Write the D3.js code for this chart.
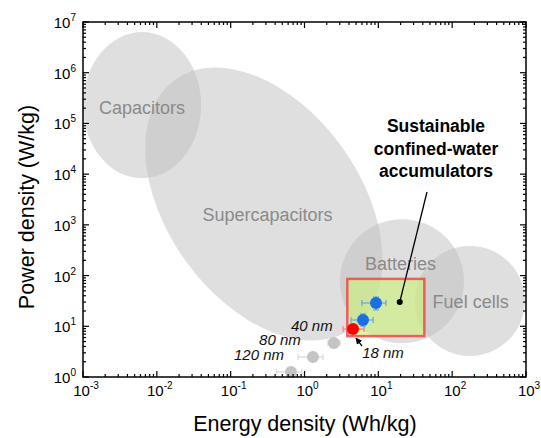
<!DOCTYPE html>
<html>
<head>
<meta charset="utf-8">
<script src="https://cdn.jsdelivr.net/npm/d3@7"></script>
<style>
  body { margin: 0; background: #fff; }
  text { font-family: Arial, "Liberation Sans", sans-serif; }
</style>
</head>
<body>
<div id="chart"></div>
<script>
// technology regions: centre (log10 E, log10 P), semi axes in x-decades, rotation (deg)
const regionNames = ["Capacitors", "Supercapacitors", "Batteries", "Fuel cells"];
const regionCx = [-2.20, -0.55, 1.32, 2.24];
const regionCy = [5.36, 3.41, 1.89, 1.50];
const regionRx = [0.80, 2.07, 0.84, 0.745];
const regionRy = [0.99, 1.31, 0.84, 0.745];
const regionRot = [0, 54.5, 0, 0];
const regionLabelX = [-2.20, -0.50, 1.30, 2.25];
const regionLabelY = [5.27, 3.17, 2.21, 1.45];

// confined-water accumulator box
const boxE = [3.8, 42];
const boxP = [6.4, 86];

// measured points (gray = thicker channels, blue = ours, red = 18 nm)
const ptLabel = ["120 nm", "80 nm", "40 nm", "18 nm", "", ""];
const ptE = [0.656, 1.30, 2.5, 4.54, 6.2, 9.3];
const ptP = [1.26, 2.48, 4.7, 8.8, 13.3, 28.8];
const ptElo = [0.42, 0.82, 2.08, 3.33, 4.27, 6.0];
const ptEhi = [0.92, 1.78, 3.03, 6.4, 8.5, 12.7];
const ptPlo = [1.2, 2.3, 4.3, 8.2, 10.1, 21];
const ptPhi = [1.33, 2.7, 5.1, 9.5, 17.5, 37.8];
const ptKind = ["gray", "gray", "gray", "red", "blue", "blue"];

const xTicks = [1e-3, 1e-2, 1e-1, 1e0, 1e1, 1e2, 1e3];
const yTicks = [1e0, 1e1, 1e2, 1e3, 1e4, 1e5, 1e6, 1e7];

const W = 541, H = 438;
const margin = {top: 22, right: 15, bottom: 61, left: 83};
const cw = W - margin.left - margin.right;
const ch = H - margin.top - margin.bottom;

const svg = d3.select("#chart").append("svg").attr("width", W).attr("height", H);
const defs = svg.append("defs");
defs.append("clipPath").attr("id", "clip").append("rect").attr("width", cw).attr("height", ch);
defs.append("marker").attr("id", "arr").attr("viewBox", "0 0 10 10")
  .attr("refX", 9).attr("refY", 5).attr("markerWidth", 5).attr("markerHeight", 5)
  .attr("orient", "auto")
  .append("path").attr("d", "M0,0 L10,5 L0,10 z").attr("fill", "#000");

const g = svg.append("g").attr("transform", `translate(${margin.left},${margin.top})`);

const x = d3.scaleLog().domain([1e-3, 1e3]).range([0, cw]);
const y = d3.scaleLog().domain([1e0, 1e7]).range([ch, 0]);
const dec = cw / 6; // px per x-decade

// regions
const plot = g.append("g").attr("clip-path", "url(#clip)");
regionNames.forEach((name, i) => {
  const cx = x(Math.pow(10, regionCx[i])), cy = y(Math.pow(10, regionCy[i]));
  plot.append("ellipse")
    .attr("transform", `translate(${cx},${cy}) rotate(${regionRot[i]})`)
    .attr("rx", regionRx[i] * dec).attr("ry", regionRy[i] * dec)
    .attr("fill", "#c0c0c0").attr("fill-opacity", 0.5);
});

// green box
plot.append("rect")
  .attr("x", x(boxE[0])).attr("y", y(boxP[1]))
  .attr("width", x(boxE[1]) - x(boxE[0])).attr("height", y(boxP[0]) - y(boxP[1]))
  .attr("fill", "#cdf07e").attr("fill-opacity", 0.65)
  .attr("stroke", "#f04848").attr("stroke-opacity", 0.85).attr("stroke-width", 2.5);

regionNames.forEach((name, i) => {
  g.append("text")
    .attr("x", x(Math.pow(10, regionLabelX[i])))
    .attr("y", y(Math.pow(10, regionLabelY[i])))
    .attr("text-anchor", "middle").attr("dominant-baseline", "middle")
    .attr("font-size", 18).attr("fill", "#8a8a8a")
    .text(name);
});

// error bars and points
const colors = {
  gray: {dot: "#c4c4c4", bar: "#d8d8d8"},
  red: {dot: "#ff0000", bar: "#f08080"},
  blue: {dot: "#1a6fe6", bar: "#6aa4e0"}
};
const cap = 3;
ptE.forEach((e, i) => {
  const c = colors[ptKind[i]];
  const px = x(e), py = y(ptP[i]);
  const eg = g.append("g").attr("stroke", c.bar).attr("stroke-width", 1.2);
  eg.append("line").attr("x1", x(ptElo[i])).attr("x2", x(ptEhi[i])).attr("y1", py).attr("y2", py);
  eg.append("line").attr("x1", x(ptElo[i])).attr("x2", x(ptElo[i])).attr("y1", py - cap).attr("y2", py + cap);
  eg.append("line").attr("x1", x(ptEhi[i])).attr("x2", x(ptEhi[i])).attr("y1", py - cap).attr("y2", py + cap);
  eg.append("line").attr("x1", px).attr("x2", px).attr("y1", y(ptPlo[i])).attr("y2", y(ptPhi[i]));
  eg.append("line").attr("x1", px - cap).attr("x2", px + cap).attr("y1", y(ptPlo[i])).attr("y2", y(ptPlo[i]));
  eg.append("line").attr("x1", px - cap).attr("x2", px + cap).attr("y1", y(ptPhi[i])).attr("y2", y(ptPhi[i]));
  g.append("circle").attr("cx", px).attr("cy", py).attr("r", 6).attr("fill", c.dot);
});

// size labels
const lblDx = [-32, -33, -22, 0, 0, 0];
const lblDy = [-12, -12, -12, 0, 0, 0];
ptLabel.forEach((t, i) => {
  if (!t || i === 3) return;
  g.append("text")
    .attr("x", x(ptE[i]) + lblDx[i]).attr("y", y(ptP[i]) + lblDy[i])
    .attr("text-anchor", "middle").attr("font-size", 15).attr("font-style", "italic")
    .attr("fill", "#111").text(t);
});
// 18 nm with arrow
const rx18 = x(ptE[3]), ry18 = y(ptP[3]);
g.append("line").attr("x1", rx18 + 9).attr("y1", ry18 + 17).attr("x2", rx18 + 3).attr("y2", ry18 + 9)
  .attr("stroke", "#000").attr("stroke-width", 1.3).attr("marker-end", "url(#arr)");
g.append("text").attr("x", rx18 + 30).attr("y", ry18 + 29)
  .attr("text-anchor", "middle").attr("font-size", 15).attr("font-style", "italic")
  .attr("fill", "#111").text(ptLabel[3]);

// annotation
const dotE = 19.5, dotP = 30;
const ann = ["Sustainable", "confined-water", "accumulators"];
const annX = 436 - margin.left;
ann.forEach((t, i) => {
  g.append("text").attr("x", annX).attr("y", 132 - margin.top + i * 22.5)
    .attr("text-anchor", "middle").attr("font-size", 17.5).attr("font-weight", "bold")
    .attr("fill", "#000").text(t);
});
g.append("line").attr("x1", 427 - margin.left).attr("y1", 192 - margin.top)
  .attr("x2", x(dotE)).attr("y2", y(dotP)).attr("stroke", "#000").attr("stroke-width", 1.3);
g.append("circle").attr("cx", x(dotE)).attr("cy", y(dotP)).attr("r", 3).attr("fill", "#000");

// frame
g.append("rect").attr("width", cw).attr("height", ch)
  .attr("fill", "none").attr("stroke", "#000").attr("stroke-width", 1.5);

// ticks on all sides, pointing inward
function minors(scale) {
  const [a, b] = scale.domain();
  const out = [];
  for (let p = Math.log10(a); p < Math.log10(b); p++)
    for (let k = 2; k <= 9; k++) out.push(k * Math.pow(10, p));
  return out;
}
const tg = g.append("g").attr("stroke", "#000").attr("stroke-width", 1.2);
xTicks.forEach(v => {
  tg.append("line").attr("x1", x(v)).attr("x2", x(v)).attr("y1", ch).attr("y2", ch - 6);
  tg.append("line").attr("x1", x(v)).attr("x2", x(v)).attr("y1", 0).attr("y2", 6);
});
minors(x).forEach(v => {
  tg.append("line").attr("x1", x(v)).attr("x2", x(v)).attr("y1", ch).attr("y2", ch - 3);
  tg.append("line").attr("x1", x(v)).attr("x2", x(v)).attr("y1", 0).attr("y2", 3);
});
yTicks.forEach(v => {
  tg.append("line").attr("y1", y(v)).attr("y2", y(v)).attr("x1", 0).attr("x2", 6);
  tg.append("line").attr("y1", y(v)).attr("y2", y(v)).attr("x1", cw).attr("x2", cw - 6);
});
minors(y).forEach(v => {
  tg.append("line").attr("y1", y(v)).attr("y2", y(v)).attr("x1", 0).attr("x2", 3);
  tg.append("line").attr("y1", y(v)).attr("y2", y(v)).attr("x1", cw).attr("x2", cw - 3);
});

// tick labels
function pow10Label(sel, v) {
  sel.append("tspan").text("10");
  sel.append("tspan").attr("font-size", 10).attr("dy", -7).text(Math.round(Math.log10(v)));
}
xTicks.forEach(v => {
  const t = g.append("text").attr("x", x(v) + 3).attr("y", ch + 19)
    .attr("text-anchor", "middle").attr("font-size", 15).attr("fill", "#000");
  pow10Label(t, v);
});
yTicks.forEach(v => {
  const t = g.append("text").attr("x", -7).attr("y", y(v) + 6)
    .attr("text-anchor", "end").attr("font-size", 15).attr("fill", "#000");
  pow10Label(t, v);
});

// axis titles
svg.append("text").attr("x", 305).attr("y", 431)
  .attr("text-anchor", "middle").attr("font-size", 21.5).attr("fill", "#000")
  .text("Energy density (Wh/kg)");
svg.append("text").attr("transform", `translate(34,207) rotate(-90)`)
  .attr("text-anchor", "middle").attr("font-size", 21.5).attr("fill", "#000")
  .text("Power density (W/kg)");
</script>
</body>
</html>
